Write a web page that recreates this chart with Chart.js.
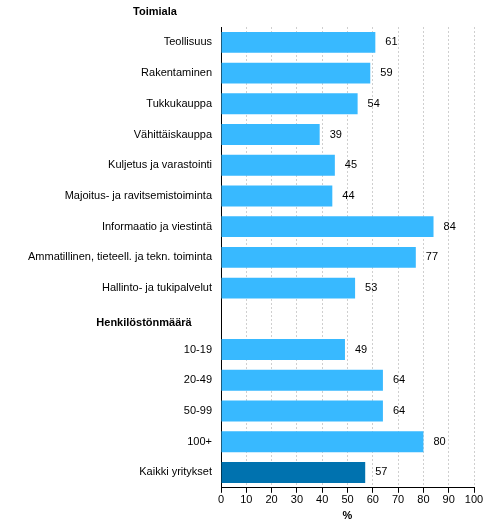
<!DOCTYPE html>
<html>
<head>
<meta charset="utf-8">
<script src="https://cdn.jsdelivr.net/npm/chart.js@4/dist/chart.umd.min.js"></script>
<style>
  html, body { margin: 0; padding: 0; background: #fff; }
  #wrap { width: 491px; height: 529px; }
</style>
</head>
<body>
<div id="wrap"><canvas id="kuvio"></canvas></div>
<script>
// Osuus yrityksistä (%), toimialan ja henkilöstön määrän mukaan
var groupTitle1 = 'Toimiala';
var groupTitle2 = 'Henkilöstönmäärä';
var categories = ['Teollisuus', 'Rakentaminen', 'Tukkukauppa', 'Vähittäiskauppa',
  'Kuljetus ja varastointi', 'Majoitus- ja ravitsemistoiminta', 'Informaatio ja viestintä',
  'Ammatillinen, tieteell. ja tekn. toiminta', 'Hallinto- ja tukipalvelut',
  groupTitle2, '10-19', '20-49', '50-99', '100+', 'Kaikki yritykset'];
var values = [61, 59, 54, 39, 45, 44, 84, 77, 53, null, 49, 64, 64, 80, 57];
var xTicks = [0, 10, 20, 30, 40, 50, 60, 70, 80, 90, 100];
var xTitle = '%';

var light = '#38b9ff';
var dark = '#0072af';
var barColors = categories.map(function (c) { return c === 'Kaikki yritykset' ? dark : light; });

var fontFamily = '"Liberation Sans", Arial, sans-serif';

// numerot palkkien perään + ryhmien otsikot
var extras = {
  id: 'extras',
  afterDatasetsDraw: function (chart) {
    var ctx = chart.ctx;
    var meta = chart.getDatasetMeta(0);
    var y = chart.scales.y;
    ctx.save();
    ctx.fillStyle = '#000';
    ctx.font = '11px ' + fontFamily;
    ctx.textBaseline = 'middle';
    ctx.textAlign = 'left';
    meta.data.forEach(function (bar, i) {
      if (values[i] == null) return;
      ctx.fillText(String(values[i]), bar.x + 10, bar.y);
    });
    ctx.font = 'bold 11px ' + fontFamily;
    ctx.textAlign = 'center';
    var step = y.getPixelForValue(1) - y.getPixelForValue(0);
    ctx.fillText(groupTitle1, y.right - 66, y.getPixelForValue(0) - step);
    ctx.fillText(groupTitle2, y.right - 77, y.getPixelForValue(9) + 4);
    ctx.restore();
  }
};

new Chart(document.getElementById('kuvio'), {
  type: 'bar',
  data: {
    labels: categories,
    datasets: [{
      data: values,
      backgroundColor: barColors,
      borderWidth: 0,
      barPercentage: 0.68,
      categoryPercentage: 1
    }]
  },
  options: {
    indexAxis: 'y',
    responsive: true,
    maintainAspectRatio: false,
    animation: false,
    layout: { padding: { top: 27, right: 17, bottom: 8, left: 0 } },
    plugins: { legend: { display: false }, tooltip: { enabled: false } },
    scales: {
      x: {
        min: 0,
        max: 100,
        afterBuildTicks: function (s) { s.ticks = xTicks.map(function (v) { return { value: v }; }); },
        grid: {
          color: function (c) { return c.tick && c.tick.value === 0 ? 'rgba(0,0,0,0)' : '#cfcfcf'; },
          tickColor: '#000',
          tickLength: 5,
          drawTicks: true
        },
        border: { display: true, color: '#000', width: 1, dash: [2, 2] },
        ticks: { color: '#000', font: { size: 11, family: fontFamily }, padding: 1, maxRotation: 0 },
        title: { display: true, text: xTitle, color: '#000', font: { size: 11, family: fontFamily, weight: 'bold', lineHeight: 1 }, padding: { top: 2, bottom: 0 } }
      },
      y: {
        afterFit: function (s) { s.width = 221; },
        grid: { display: false, drawTicks: false },
        border: { display: true, color: '#000', width: 1 },
        ticks: {
          color: '#000',
          padding: 9,
          font: { size: 11, family: fontFamily },
          callback: function (v, i) { return categories[i] === groupTitle2 ? '' : categories[i]; }
        }
      }
    }
  },
  plugins: [extras]
});
</script>
</body>
</html>
